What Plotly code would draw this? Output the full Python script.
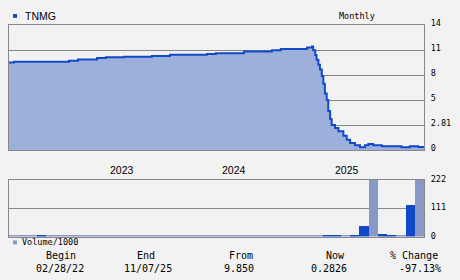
import plotly.graph_objects as go

W, H = 460, 280

# ---- data ----
price_dates = [
    "2022-02-28", "2022-03-16", "2022-09-11", "2022-10-10", "2022-12-11",
    "2023-01-09", "2023-03-09", "2023-06-07", "2023-08-05", "2023-12-03",
    "2024-01-01", "2024-04-01", "2024-07-01", "2024-07-30", "2024-10-23",
    "2024-11-08", "2024-11-12", "2024-11-19", "2024-11-23", "2024-11-29",
    "2024-12-04", "2024-12-10", "2024-12-15", "2024-12-20", "2024-12-26",
    "2024-12-31", "2025-01-06", "2025-01-11", "2025-01-22", "2025-02-02",
    "2025-02-18", "2025-03-01", "2025-03-12", "2025-03-28", "2025-04-13",
    "2025-04-29", "2025-05-10", "2025-05-26", "2025-06-23", "2025-08-26",
    "2025-09-22", "2025-10-19", "2025-11-07",
]
price_values = [
    9.85, 9.94, 10.05, 10.20, 10.37,
    10.45, 10.50, 10.60, 10.74, 10.82,
    10.90, 11.10, 11.24, 11.38, 11.56,
    11.67, 11.24, 10.70, 10.16, 9.62,
    9.08, 8.35, 7.46, 6.38, 5.65,
    4.40, 3.49, 2.84, 2.49, 2.13,
    1.62, 1.16, 0.79, 0.54, 0.32,
    0.54, 0.68, 0.54, 0.43, 0.32,
    0.43, 0.36, 0.2826,
]
price_tick_values = [0, 2.81, 5.62, 8.43, 11.24, 14.05]
price_tick_labels = ["0", "2.81", "5", "8", "11", "14"]
year_labels = ["2023", "2024", "2025"]
year_starts = ["2023-01-01", "2024-01-01", "2025-01-01"]

vol_months = [
    "Mar 22", "Apr 22", "May 22", "Jun 22", "Jul 22", "Aug 22", "Sep 22", "Oct 22", "Nov 22", "Dec 22",
    "Jan 23", "Feb 23", "Mar 23", "Apr 23", "May 23", "Jun 23", "Jul 23", "Aug 23", "Sep 23", "Oct 23",
    "Nov 23", "Dec 23", "Jan 24", "Feb 24", "Mar 24", "Apr 24", "May 24", "Jun 24", "Jul 24", "Aug 24",
    "Sep 24", "Oct 24", "Nov 24", "Dec 24", "Jan 25", "Feb 25", "Mar 25", "Apr 25", "May 25", "Jun 25",
    "Jul 25", "Aug 25", "Sep 25", "Oct 25", "Nov 25",
]
vol_light = [
    7, 7, 7, 0, 7, 7, 7, 7, 7, 7,
    7, 7, 7, 7, 7, 7, 7, 7, 7, 7,
    7, 7, 7, 7, 7, 7, 7, 7, 7, 7,
    7, 7, 7, 7, 0, 0, 4, 0, 0, 222,
    0, 0, 4, 0, 222,
]
vol_dark = [
    0, 0, 0, 6, 0, 0, 0, 0, 0, 0,
    0, 0, 0, 0, 0, 0, 0, 0, 0, 0,
    0, 0, 0, 0, 0, 0, 0, 0, 0, 0,
    0, 0, 0, 0, 7, 7, 0, 6, 41, 0,
    9, 4, 0, 125, 0,
]
vol_tick_values = [0, 111, 222]

ticker = "TNMG"
period = "Monthly"
summary_heads = ["Begin", "End", "From", "Now", "% Change"]
summary_vals = ["02/28/22", "11/07/25", "9.850", "0.2826", "-97.13%"]

# ---- styles ----
BG = "#f2f2f2"
GRID = "#888888"
DARK = "#1249c9"
LIGHT = "#8899c6"
FILL = "#9db0dc"
MONO = "DejaVu Sans Mono"
SANS = "Liberation Sans"


def px(x):
    return x / W


def py(y):
    return 1 - y / H


fig = go.Figure()

fig.add_trace(go.Scatter(
    x=price_dates, y=price_values, mode="lines", line=dict(color=DARK, width=2, shape="hv"),
    fill="tozeroy", fillcolor=FILL, xaxis="x", yaxis="y", hoverinfo="skip", showlegend=False,
))

fig.add_trace(go.Bar(
    x=vol_months, y=vol_light, marker=dict(color=LIGHT, line=dict(width=0)),
    xaxis="x2", yaxis="y2", showlegend=False, hoverinfo="skip",
))
fig.add_trace(go.Bar(
    x=vol_months, y=vol_dark, marker=dict(color=DARK, line=dict(width=0)),
    xaxis="x2", yaxis="y2", showlegend=False, hoverinfo="skip",
))

xdom = [px(9), px(424)]

fig.update_layout(
    width=W, height=H, margin=dict(l=0, r=0, t=0, b=0),
    paper_bgcolor=BG, plot_bgcolor=BG, barmode="overlay", bargap=0,
    xaxis=dict(domain=xdom, anchor="y", type="date",
               range=[price_dates[0], price_dates[-1]],
               showgrid=False, showticklabels=False, ticks="",
               showline=True, linecolor=GRID, linewidth=1, mirror=True, zeroline=False),
    yaxis=dict(domain=[py(149), py(19)], anchor="x", side="right",
               range=[0, price_tick_values[-1]], tickvals=price_tick_values, ticktext=price_tick_labels,
               showgrid=True, gridcolor=GRID, gridwidth=1, zeroline=False,
               showline=True, linecolor=GRID, linewidth=1, mirror=True,
               ticks="", ticklabelstandoff=4, ticklabelshift=-2,
               tickfont=dict(family=MONO, size=8.5, color="#000")),
    xaxis2=dict(domain=xdom, anchor="y2", type="category", range=[-0.5, len(vol_months) - 0.5],
                showgrid=False, showticklabels=False, ticks="",
                showline=True, linecolor=GRID, linewidth=1, mirror=True, layer="below traces"),
    yaxis2=dict(domain=[py(239), py(180)], anchor="x2", side="right",
                range=[0, 222], tickvals=vol_tick_values,
                showgrid=True, gridcolor=GRID, gridwidth=1, zeroline=False,
                showline=True, linecolor=GRID, linewidth=1, mirror=True,
                ticks="", ticklabelstandoff=4, ticklabelshift=-1,
                tickfont=dict(family=MONO, size=8.5, color="#000")),
)

ann = []
# ticker header
ann.append(dict(x=px(23), y=py(9), xref="paper", yref="paper", text=ticker, showarrow=False,
                xanchor="left", yanchor="middle", font=dict(family=SANS, size=10.5, color="#000")))
ann.append(dict(x=px(357), y=py(9), xref="paper", yref="paper", text=period, showarrow=False,
                xanchor="center", yanchor="middle", font=dict(family=MONO, size=8.5, color="#000")))
# year labels
for lab, d in zip(year_labels, year_starts):
    ann.append(dict(x=d, y=py(170), xref="x", yref="paper", text=lab, showarrow=False,
                    xanchor="left", yanchor="middle", xshift=4,
                    font=dict(family=SANS, size=10.5, color="#000")))
# volume legend
ann.append(dict(x=px(20), y=py(245), xref="paper", yref="paper", text="Volume/1000", showarrow=False,
                xanchor="left", yanchor="middle", font=dict(family=MONO, size=8.5, color="#000")))
# summary row
head_x = [60.7, 146.3, 241, 335, 414]
val_x = [59.5, 147.5, 239, 329, 420]
for h, v, hx, vx in zip(summary_heads, summary_vals, head_x, val_x):
    ann.append(dict(x=px(hx), y=py(259), xref="paper", yref="paper", text=h, showarrow=False,
                    xanchor="center", yanchor="middle", font=dict(family=MONO, size=10, color="#000")))
    ann.append(dict(x=px(vx), y=py(272.5), xref="paper", yref="paper", text=v, showarrow=False,
                    xanchor="center", yanchor="middle", font=dict(family=MONO, size=10, color="#000")))
fig.update_layout(annotations=ann)

fig.update_layout(shapes=[
    dict(type="rect", xref="paper", yref="paper", x0=px(13), x1=px(17), y0=py(11.3), y1=py(7.3),
         fillcolor=DARK, line=dict(width=0)),
    dict(type="rect", xref="paper", yref="paper", x0=px(13), x1=px(17), y0=py(247), y1=py(243),
         fillcolor=LIGHT, line=dict(width=0)),
])

fig.write_html("out.html")
